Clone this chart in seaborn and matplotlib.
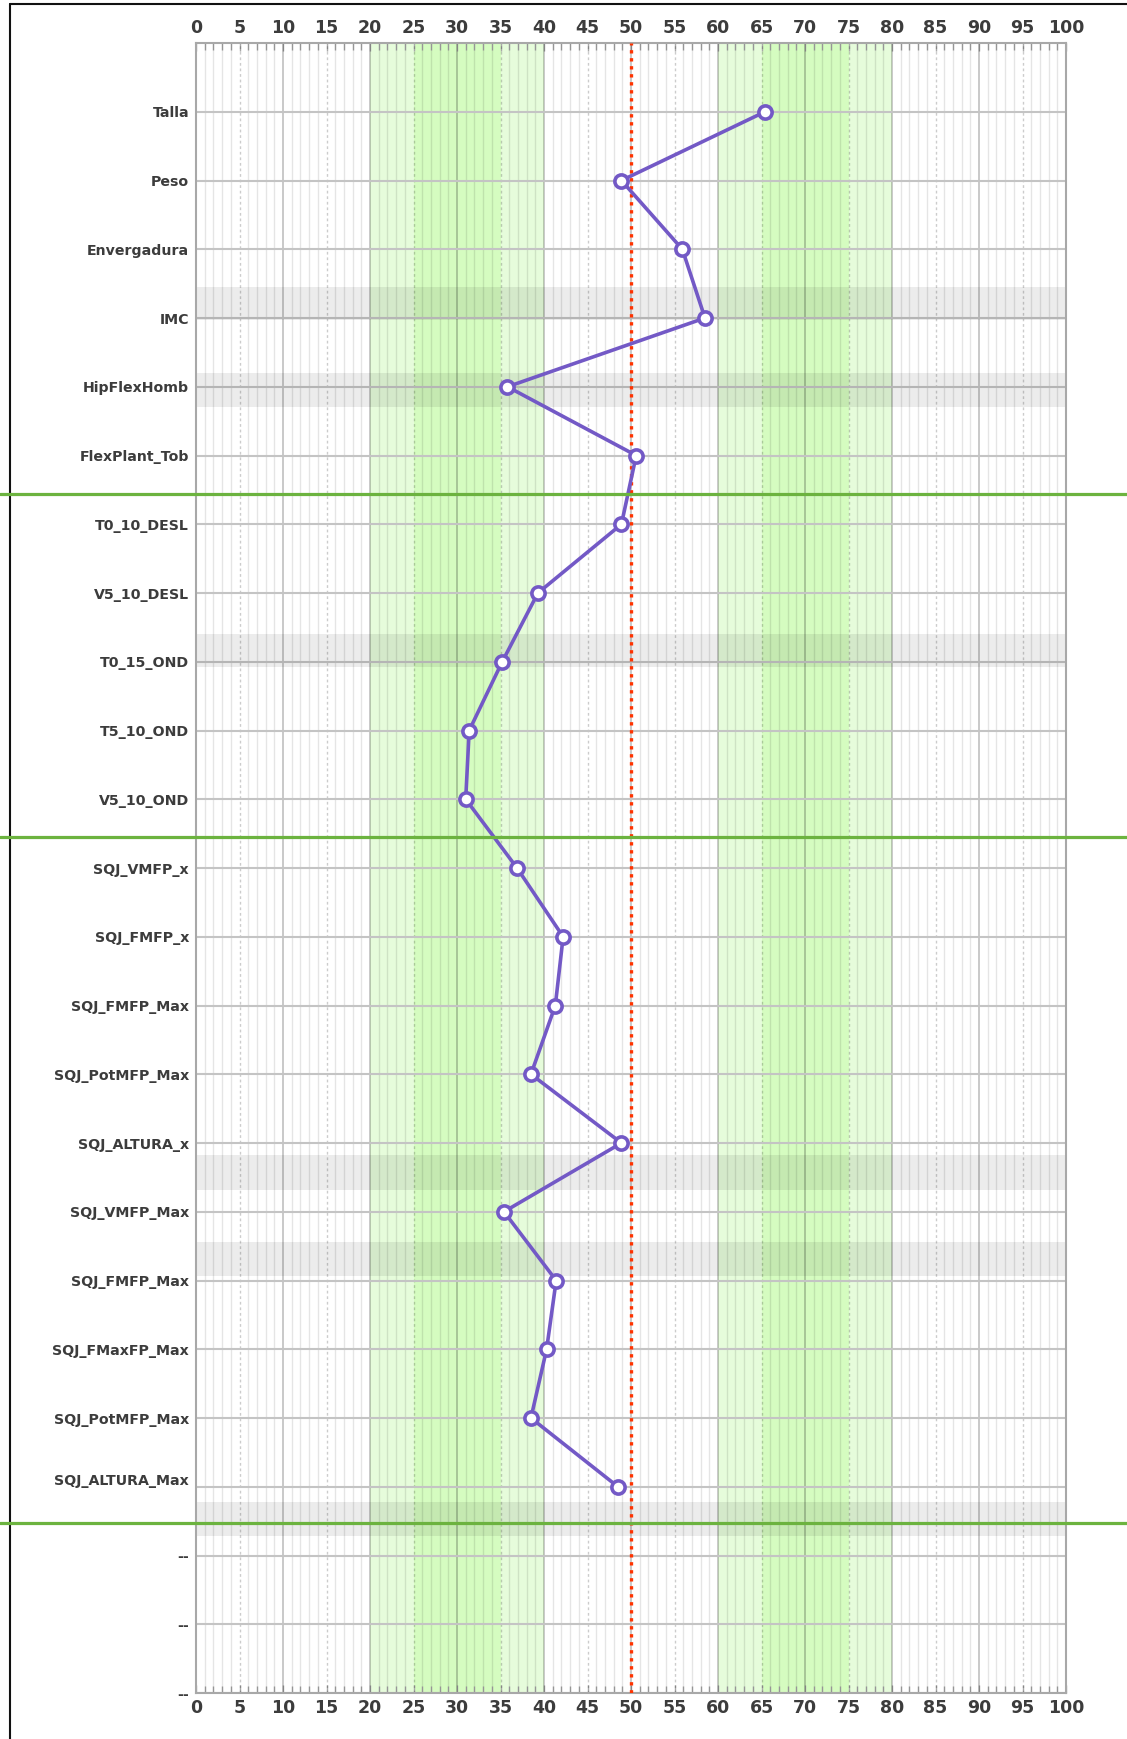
import numpy as np
import pandas as pd
import seaborn as sns
import matplotlib.pyplot as plt
import matplotlib.transforms as mtransforms
from matplotlib.lines import Line2D

# Percentile profile data (top to bottom)
VARIABLES = ['Talla', 'Peso', 'Envergadura', 'IMC', 'HipFlexHomb', 'FlexPlant_Tob',
             'T0_10_DESL', 'V5_10_DESL', 'T0_15_OND', 'T5_10_OND', 'V5_10_OND',
             'SQJ_VMFP_x', 'SQJ_FMFP_x', 'SQJ_FMFP_Max', 'SQJ_PotMFP_Max', 'SQJ_ALTURA_x',
             'SQJ_VMFP_Max', 'SQJ_FMFP_Max', 'SQJ_FMaxFP_Max', 'SQJ_PotMFP_Max', 'SQJ_ALTURA_Max']
PERCENTILES = [65.4, 48.9, 55.9, 58.5, 35.8, 50.6,
               48.9, 39.3, 35.2, 31.4, 31.0,
               36.9, 42.2, 41.3, 38.5, 48.9,
               35.4, 41.4, 40.3, 38.5, 48.5]
EMPTY_ROWS = ['--', '--', '--']
SEPARATORS = [5.56, 10.55, 20.52]
GRAY_BANDS = [(2.55, 3.03), (3.8, 4.3), (7.6, 8.08), (15.17, 15.68), (16.44, 16.94), (20.22, 20.72)]
OUTER_ZONES = [(20, 40), (60, 80)]
INNER_ZONES = [(25, 35), (65, 75)]
MEDIAN = 50
X_TICKS = list(range(0, 101, 5))

ROW_LABELS = VARIABLES + EMPTY_ROWS
n_rows = len(ROW_LABELS)

sns.set_theme(style='white')
plt.rcParams['font.family'] = ['DejaVu Sans']

W, H = 1127, 1739
fig = plt.figure(figsize=(W / 100, H / 100), dpi=100)
ax = fig.add_axes([196 / W, 1 - 1693 / H, 870 / W, 1650 / H])

# reference zones
for a, b in OUTER_ZONES:
    ax.axvspan(a, b, color='#e6fcdb', lw=0, zorder=0)
for a, b in INNER_ZONES:
    ax.axvspan(a, b, color='#d5fcc0', lw=0, zorder=0.1)

# vertical grid
for x in range(0, 101):
    if x % 10 == 0:
        ax.axvline(x, color='black', alpha=0.25, lw=1.2, zorder=1)
    elif x % 5 == 0:
        ax.axvline(x, color='black', alpha=0.2, lw=1.0, linestyle=(0, (2, 2)), zorder=1)
    else:
        ax.axvline(x, color='black', alpha=0.1, lw=1.0, zorder=1)

# horizontal row lines
for i in range(n_rows):
    ax.axhline(i, color='#c4c4c4', lw=1.5, zorder=1.2)

# gray highlight bands
for a, b in GRAY_BANDS:
    ax.axhspan(a, b, color='black', alpha=0.075, lw=0, zorder=1.5)

# median line
ax.axvline(MEDIAN, color='#ff3300', lw=2.4, linestyle=(0, (1, 1.4)), zorder=3)

# profile line
df = pd.DataFrame({'pct': PERCENTILES, 'row': np.arange(len(VARIABLES))})
sns.lineplot(data=df, x='pct', y='row', sort=False, estimator=None, ax=ax,
             color='#7359c6', lw=2.6, marker='o', markersize=9.5,
             markerfacecolor='white', markeredgecolor='#7359c6', markeredgewidth=2.6,
             zorder=5)

ax.set_xlim(0, 100)
ax.set_ylim(n_rows - 1, -1)
ax.set_xlabel('')
ax.set_ylabel('')

ax.set_xticks(X_TICKS)
ax.set_xticks(range(0, 101), minor=True)
ax.tick_params(axis='x', which='both', top=True, bottom=True, labeltop=True, labelbottom=True,
               direction='in', color='#a8a8a8', width=1)
ax.tick_params(axis='x', which='major', length=6, labelsize=12.5, labelcolor='#3c3c3c', pad=4.5)
ax.tick_params(axis='x', which='minor', length=5)
for t in ax.xaxis.get_major_ticks():
    t.label1.set_fontweight('bold')
    t.label2.set_fontweight('bold')

ax.set_yticks(range(n_rows))
ax.set_yticklabels(ROW_LABELS, fontsize=10.2, fontweight='bold', color='#3c3c3c')
ax.tick_params(axis='y', length=0, pad=5)
# last variable label sits a little above its row line
lab = ax.get_yticklabels()[len(VARIABLES) - 1]
lab.set_transform(lab.get_transform() + mtransforms.ScaledTranslation(0, 0.07, fig.dpi_scale_trans))

for s in ax.spines.values():
    s.set_color('#a8a8a8')
    s.set_linewidth(1.5)
    s.set_visible(True)

# section separators across the whole figure
blend = mtransforms.blended_transform_factory(fig.transFigure, ax.transData)
for y in SEPARATORS:
    fig.add_artist(Line2D([0, 1], [y, y], transform=blend, color='#6cb33f', lw=2.3, clip_on=False, zorder=6))

# window frame (left and top edge)
fig.add_artist(Line2D([9.5 / W, 9.5 / W], [0, 1 - 4 / H], color='#111111', lw=1.5))
fig.add_artist(Line2D([9.5 / W, 1], [1 - 4 / H, 1 - 4 / H], color='#111111', lw=1.5))

fig.savefig('out.png', dpi=100)
